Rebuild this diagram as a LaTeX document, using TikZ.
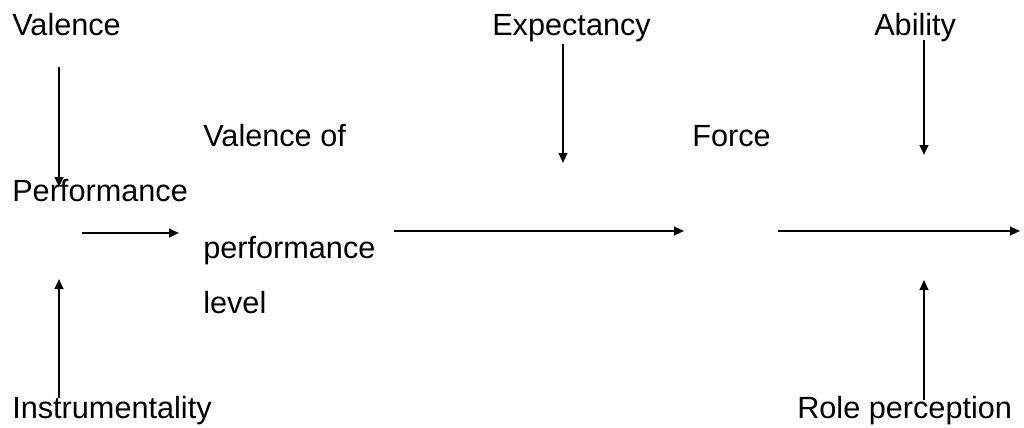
\documentclass[tikz,border=0pt]{standalone}
\usepackage{fontspec}
\setmainfont{Liberation Sans}
\usepackage{tikz}
\usetikzlibrary{positioning, arrows.meta}
\definecolor{ink}{HTML}{000000}
\tikzset{
  label/.style = {anchor=base west, inner sep=0pt, text=ink,
                  font=\fontsize{23}{28}\selectfont},
  ar/.style    = {-{Triangle[length=7.5pt,width=6.5pt]}, line width=1.5pt, draw=ink},
}
\begin{document}
\begin{tikzpicture}[x=0.75pt, y=-0.75pt]
  \useasboundingbox (0,0) rectangle (1024,428);

  % left inputs
  \node[label] (val)  at (12,36)  {Valence};
  \node[label] (perf) at (12,201) {Performance};
  \node[label] (inst) at (12,418) {Instrumentality};

  % middle block
  \node[label] (vop1) at (203,146) {Valence of};
  \node[label] (vop2) at (203,258) {performance};
  \node[label] (vop3) at (203,313) {level};

  \node[label] (exp)   at (492,36)  {Expectancy};
  \node[label] (force) at (692,146) {Force};

  % right inputs
  \node[label] (abil) at (874,36)  {Ability};
  \node[label] (role) at (797,418) {Role perception};

  % connector ends
  \coordinate (valS)  at (59,67);
  \coordinate (valE)  at (59,187);
  \coordinate (instS) at (59,398);
  \coordinate (instE) at (59,279);
  \coordinate (h1S)   at (82,233);
  \coordinate (h1E)   at (179,233);
  \coordinate (h2S)   at (394,231);
  \coordinate (h2E)   at (684,231);
  \coordinate (h3S)   at (778,231);
  \coordinate (h3E)   at (1020,231);
  \coordinate (expS)  at (563,44);
  \coordinate (expE)  at (563,163);
  \coordinate (abS)   at (924,40);
  \coordinate (abE)   at (924,155);
  \coordinate (roS)   at (924,400);
  \coordinate (roE)   at (924,280);

  \draw[ar] (valS) -- (valE);
  \draw[ar] (instS) -- (instE);
  \draw[ar] (h1S) -- (h1E);
  \draw[ar] (h2S) -- (h2E);
  \draw[ar] (h3S) -- (h3E);
  \draw[ar] (expS) -- (expE);
  \draw[ar] (abS) -- (abE);
  \draw[ar] (roS) -- (roE);

\end{tikzpicture}
\end{document}
